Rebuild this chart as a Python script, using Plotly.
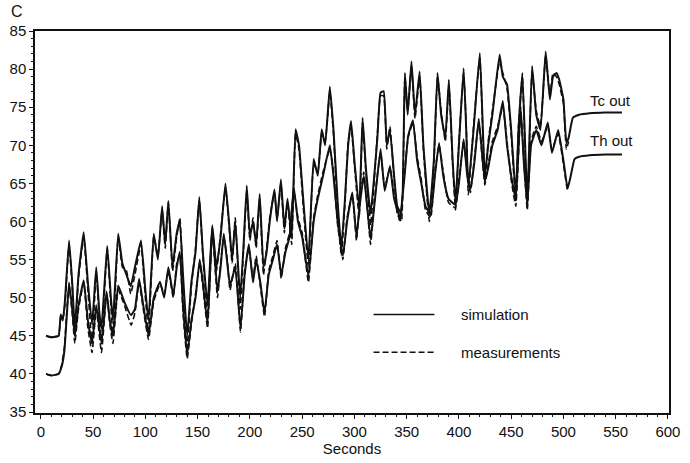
import plotly.graph_objects as go

# ---------------- data ----------------
tc_t = [5, 10, 17, 19, 21, 23, 27, 30, 32.5, 36,
        41, 45, 49, 53, 56, 58, 63.5, 67, 69, 74,
        78, 82, 86, 90, 95.8, 100, 103, 108, 112, 116,
        119, 122, 126, 130, 133, 136, 140, 144, 148, 151.6,
        155, 159.5, 164, 168, 172, 176.6, 180, 183, 186, 190.7,
        194, 197, 200, 203, 206, 209.4, 213, 216, 219, 223.5,
        226, 229.7, 233, 236, 240, 243.7, 247, 251, 256, 261,
        265, 268.7, 272, 276.5, 280, 284, 287.5, 291, 294, 296.8,
        300, 304.6, 307.8, 311, 315.5, 319, 322, 325, 328, 331,
        334, 338, 341, 345, 348.3, 351, 354.6, 358, 362.4, 366,
        371.7, 376, 379.5, 383, 387, 390.4, 394, 396.7, 400, 404.5,
        407, 409, 414, 420, 424.8, 428, 432, 438.9, 442, 446,
        450, 454.4, 457, 460.7, 465.4, 470, 474, 478, 483, 487,
        490, 493.4, 496, 500, 502.8, 505, 509, 515, 525, 540,
        556]

tc_sim = [45.0, 44.8, 45.0, 47.8, 47.0, 49.5, 57.5, 52.0, 46.0, 53.0,
          58.6, 52.0, 46.5, 54.0, 48.0, 46.0, 56.8, 50.0, 47.0, 58.4,
          54.5, 53.0, 51.5, 54.0, 57.5, 51.0, 47.0, 58.4, 55.0, 62.0,
          57.0, 62.7, 54.0, 58.5, 60.0, 53.0, 45.0, 52.0, 56.0, 63.2,
          56.0, 49.0, 59.5, 54.0, 58.0, 65.0, 60.0, 55.0, 60.0, 50.0,
          57.0, 64.7, 58.0, 60.0, 57.0, 63.6, 54.0, 56.0, 60.0, 64.2,
          60.0, 65.5, 59.0, 63.0, 58.0, 72.1, 70.0, 63.0, 55.0, 68.2,
          66.0, 72.1, 70.0, 77.7, 72.0, 62.5, 56.5, 63.0, 70.0, 73.2,
          68.0, 61.6, 73.6, 67.0, 61.0, 66.0, 71.0, 76.9, 77.1, 70.0,
          72.0, 66.0, 62.0, 61.0, 79.5, 74.0, 81.0, 74.0, 79.7, 70.0,
          61.0, 68.0, 79.5, 74.0, 71.0, 78.6, 68.0, 62.5, 70.0, 80.1,
          72.0, 64.5, 72.0, 82.1, 66.0, 70.0, 74.0, 81.9, 79.0, 78.0,
          72.0, 63.5, 72.0, 79.5, 62.8, 80.4, 74.0, 72.0, 82.3, 76.0,
          79.0, 79.5, 78.6, 76.0, 70.3, 71.0, 73.6, 74.0, 74.2, 74.3,
          74.3]

tc_meas = [45.0, 44.8, 45.0, 47.5, 47.2, 49.0, 57.0, 51.5, 45.0, 52.5,
           58.0, 51.0, 44.0, 53.5, 47.0, 44.5, 56.5, 49.0, 45.0, 58.0,
           54.0, 53.5, 50.5, 53.0, 57.0, 50.0, 45.5, 58.0, 55.5, 61.5,
           56.5, 62.5, 53.5, 58.0, 60.5, 52.0, 43.5, 51.5, 56.5, 62.8,
           55.5, 47.5, 59.0, 53.5, 58.5, 64.5, 59.5, 54.5, 60.5, 48.5,
           56.5, 64.0, 57.5, 60.5, 56.5, 63.0, 53.0, 56.5, 60.5, 63.8,
           60.5, 65.0, 58.5, 62.5, 57.0, 71.5, 69.5, 62.0, 54.0, 67.5,
           66.5, 71.5, 70.5, 77.0, 71.5, 61.5, 55.5, 62.5, 70.5, 72.5,
           67.5, 60.5, 73.0, 66.5, 59.5, 65.5, 71.5, 76.5, 76.5, 69.5,
           72.5, 65.5, 61.0, 60.0, 79.0, 74.5, 80.5, 73.5, 79.0, 69.5,
           60.0, 67.5, 79.0, 74.5, 70.5, 78.0, 67.5, 61.5, 70.5, 79.5,
           72.5, 63.5, 72.5, 81.5, 65.0, 70.5, 74.5, 81.0, 79.5, 77.5,
           71.5, 62.5, 72.5, 79.0, 61.8, 79.8, 74.5, 72.5, 81.8, 76.5,
           79.5, 79.0, 78.0, 75.5, 69.5, 70.5]

th_t = [5, 10, 17, 20, 22.5, 25, 27, 30, 32.5, 36,
        41, 45, 49, 53, 58, 62.9, 66, 69, 74, 80,
        86.4, 90, 94, 98, 103, 108, 114, 118, 122, 126.7,
        130, 133, 136, 140, 144, 148, 152, 155, 159.5, 164,
        169, 172, 175, 178, 181, 186, 191, 195, 199, 203,
        206, 210, 214, 218, 222, 226, 230, 234, 238, 242,
        246, 250, 256, 261, 265, 270, 276.5, 280, 284, 289,
        293, 298, 302, 305, 309, 315.5, 319, 325, 329, 334,
        338, 343.6, 348, 351.4, 356, 360, 364, 368, 373, 377,
        381, 385, 390, 396.7, 400, 404.5, 408, 411, 415, 419,
        424.8, 428, 432, 437, 442, 446, 450, 454.4, 459, 462,
        465.4, 469, 474, 479, 485, 489, 495, 500, 504, 507,
        510.6, 515, 525, 540, 556]

th_sim = [40.0, 39.8, 40.0, 41.0, 43.0, 48.0, 52.0, 48.5, 45.0, 49.0,
          52.3, 47.0, 44.0, 49.0, 44.0, 50.8, 47.0, 45.0, 51.6, 49.4,
          47.7, 48.5, 52.5, 49.0, 45.0, 50.0, 52.1, 50.0, 54.0, 50.3,
          54.0, 56.0, 49.0, 42.5, 47.0, 50.0, 55.0, 52.0, 46.5, 59.2,
          50.8, 54.0, 58.4, 55.0, 51.6, 54.0, 46.0, 53.0, 57.0, 52.0,
          55.0, 52.0, 48.0, 53.0, 55.0, 57.0, 53.0, 56.0, 58.0, 64.5,
          60.0, 58.0, 52.8, 60.0, 63.0, 66.0, 70.0, 66.0, 60.0, 55.5,
          60.0, 63.8, 58.0, 62.0, 66.0, 57.7, 62.0, 69.5, 64.0, 67.3,
          63.0, 60.5, 66.0, 71.2, 73.3, 68.0, 65.0, 62.0, 61.0, 66.0,
          70.3, 66.0, 63.0, 62.2, 65.0, 70.8, 66.0, 64.2, 68.0, 73.5,
          65.3, 67.0, 70.0, 72.0, 75.8, 70.0, 66.0, 62.9, 75.1, 68.0,
          62.3, 70.0, 72.0, 70.0, 73.0, 69.0, 72.0, 68.0, 64.3, 66.0,
          68.2, 68.5, 68.7, 68.8, 68.8]

th_meas = [40.0, 39.8, 40.0, 41.2, 43.5, 48.5, 51.5, 48.0, 44.0, 48.5,
           52.0, 46.0, 42.8, 48.5, 42.8, 50.5, 46.5, 44.0, 51.0, 49.0,
           46.4, 48.0, 52.0, 48.5, 44.5, 49.5, 51.8, 50.5, 53.5, 50.0,
           54.5, 55.5, 48.0, 42.0, 46.5, 50.5, 54.5, 51.5, 46.0, 58.8,
           50.0, 54.5, 58.0, 55.5, 51.0, 54.5, 45.5, 53.5, 56.5, 52.5,
           55.5, 51.5, 47.5, 53.5, 55.5, 57.5, 52.5, 56.5, 58.5, 64.0,
           60.5, 58.5, 52.0, 60.5, 63.5, 66.5, 69.5, 66.5, 59.5, 55.0,
           60.5, 63.5, 57.5, 62.5, 66.5, 57.0, 62.5, 69.0, 64.5, 67.0,
           63.5, 60.0, 66.5, 71.0, 73.0, 68.5, 65.5, 61.5, 60.5, 66.5,
           70.0, 66.5, 62.5, 61.8, 65.5, 70.5, 66.5, 63.8, 68.5, 73.0,
           64.8, 67.5, 70.5, 72.5, 75.0, 70.5, 65.5, 62.0, 74.5, 68.5,
           61.5, 70.5, 72.5, 70.5, 72.5, 69.5, 71.5, 67.5, 63.8]

x_ticks = [0, 50, 100, 150, 200, 250, 300, 350, 400, 450, 500, 550, 600]
y_ticks = [35, 40, 45, 50, 55, 60, 65, 70, 75, 80, 85]

# ---------------- figure ----------------
INK = "#111111"
FONT = "Liberation Sans, Arial, sans-serif"

fig = go.Figure()
for tt, vv in ((tc_t[:len(tc_meas)], tc_meas), (th_t[:len(th_meas)], th_meas)):
    fig.add_trace(go.Scatter(x=tt, y=vv, mode="lines",
                             line=dict(color=INK, width=1.6, dash="6px,3px",
                                       shape="spline", smoothing=0.35),
                             showlegend=False))
for tt, vv in ((tc_t, tc_sim), (th_t, th_sim)):
    fig.add_trace(go.Scatter(x=tt, y=vv, mode="lines",
                             line=dict(color=INK, width=2.0,
                                       shape="spline", smoothing=0.35),
                             showlegend=False))

axis_common = dict(showgrid=False, zeroline=False, showline=True,
                   linecolor=INK, linewidth=1.5, mirror=True,
                   ticks="outside", ticklen=4, tickcolor=INK, tickwidth=1.2,
                   tickfont=dict(family=FONT, size=15, color=INK))

fig.update_xaxes(range=[-5.6, 601], tickvals=x_ticks,
                 minor=dict(ticks="outside", ticklen=2, dtick=10, tickcolor=INK),
                 title=dict(text="Seconds", font=dict(family=FONT, size=15, color=INK),
                            standoff=3),
                 **axis_common)
fig.update_yaxes(range=[34.87, 85], tickvals=y_ticks,
                 minor=dict(ticks="outside", ticklen=2, dtick=1, tickcolor=INK),
                 **axis_common)

# legend drawn as in the original
fig.add_shape(type="line", xref="paper", yref="paper", x0=0.534, x1=0.630,
              y0=0.258, y1=0.258, line=dict(color=INK, width=1.4))
fig.add_shape(type="line", xref="paper", yref="paper", x0=0.534, x1=0.630,
              y0=0.159, y1=0.159, line=dict(color=INK, width=1.4, dash="6px,3px"))
fig.add_annotation(x=0.669, y=0.258, xref="paper", yref="paper", text="simulation",
                   showarrow=False, xanchor="left", yanchor="middle",
                   font=dict(family=FONT, size=15, color=INK))
fig.add_annotation(x=0.669, y=0.159, xref="paper", yref="paper", text="measurements",
                   showarrow=False, xanchor="left", yanchor="middle",
                   font=dict(family=FONT, size=15, color=INK))

fig.add_annotation(x=0.872, y=0.818, xref="paper", yref="paper", text="Tc out",
                   showarrow=False, xanchor="left", yanchor="middle",
                   font=dict(family=FONT, size=15, color=INK))
fig.add_annotation(x=0.872, y=0.714, xref="paper", yref="paper", text="Th out",
                   showarrow=False, xanchor="left", yanchor="middle",
                   font=dict(family=FONT, size=15, color=INK))

fig.add_annotation(x=-0.028, y=1.05, xref="paper", yref="paper",
                   text="C", showarrow=False, xanchor="center", yanchor="middle",
                   font=dict(family=FONT, size=16, color=INK))

fig.update_layout(width=690, height=463,
                  margin=dict(l=32, r=10, t=31, b=48),
                  paper_bgcolor="white", plot_bgcolor="white",
                  font=dict(family=FONT, size=15, color=INK))

fig.write_html("out.html")
